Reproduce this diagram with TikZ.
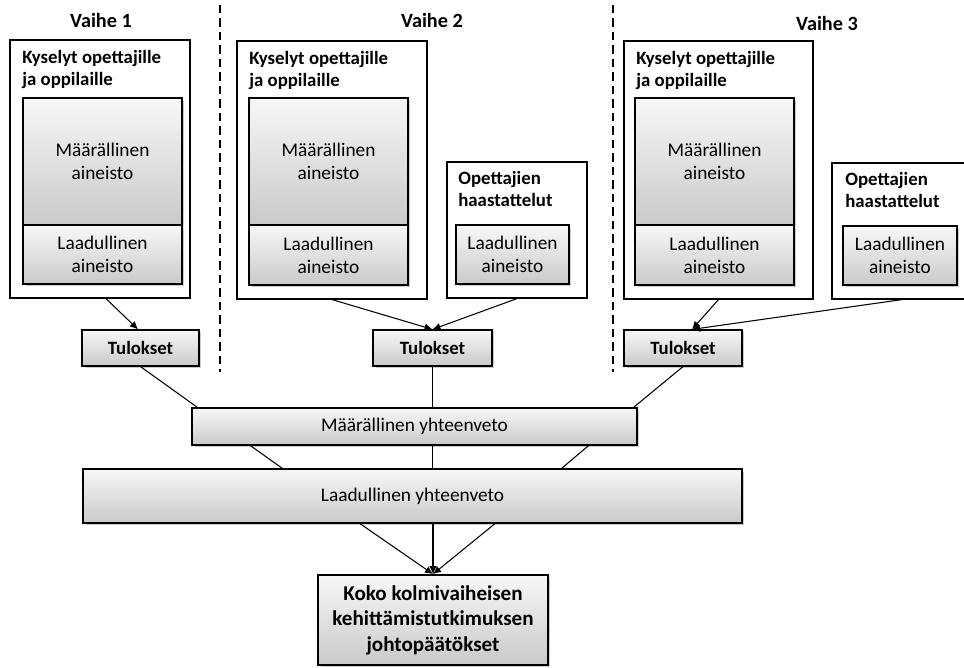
\documentclass[tikz,border=0pt]{standalone}
\usepackage{fontspec}
\setmainfont{Carlito}
\usetikzlibrary{arrows.meta,shadows}

\begin{document}
\begin{tikzpicture}[x=0.02cm, y=-0.02cm,
    outerbox/.style={draw, line width=0.7pt, fill=white, inner sep=0pt},
    shadebox/.style={draw, line width=0.7pt, top color=gray!6, bottom color=gray!42,
        drop shadow={shadow xshift=0.05cm, shadow yshift=-0.05cm, fill=black!45, opacity=0.45},
        inner sep=0pt, align=center, font=\fontsize{11}{13.2}\selectfont},
    boxtitle/.style={anchor=north west, align=left, inner sep=0pt,
        font=\fontsize{10.7}{12.6}\selectfont\bfseries},
    phase/.style={font=\fontsize{11.5}{13}\selectfont\bfseries},
    divider/.style={line width=1.1pt, dash pattern=on 0.17cm off 0.1cm},
    link/.style={line width=0.6pt},
    arr/.style={link, -{Latex[length=1.6mm, width=1.5mm]}}]
    \useasboundingbox (0,0) rectangle (964,668);

    % Phase labels and dividers
    \node[phase] (v1) at (101,20) {Vaihe 1};
    \node[phase] (v2) at (432,20) {Vaihe 2};
    \node[phase] (v3) at (827,23) {Vaihe 3};
    \coordinate (d1top) at (220,5);   \coordinate (d1bot) at (220,372);
    \coordinate (d2top) at (613,5);   \coordinate (d2bot) at (613,372);
    \draw[divider] (d1top) -- (d1bot);
    \draw[divider] (d2top) -- (d2bot);

    % Surveys, phase 1
    \node[outerbox, minimum width=3.6cm, minimum height=5.16cm] (s1) at (100,169) {};
    \node[boxtitle] at (22,50) {Kyselyt opettajille\\ja oppilaille};
    \node[shadebox, minimum width=3.18cm, minimum height=2.54cm] (q1) at (102.5,161.5) {Määrällinen\\aineisto};
    \node[shadebox, minimum width=3.18cm, minimum height=1.18cm] (l1) at (102.5,254.5) {Laadullinen\\aineisto};

    % Surveys and interviews, phase 2
    \node[outerbox, minimum width=3.8cm, minimum height=5.16cm] (s2) at (332,170) {};
    \node[boxtitle] at (249,51) {Kyselyt opettajille\\ja oppilaille};
    \node[shadebox, minimum width=3.18cm, minimum height=2.54cm] (q2) at (328.5,161.5) {Määrällinen\\aineisto};
    \node[shadebox, minimum width=3.18cm, minimum height=1.2cm] (l2) at (328.5,255) {Laadullinen\\aineisto};
    \node[outerbox, minimum width=2.8cm, minimum height=2.72cm] (i2) at (517,230) {};
    \node[boxtitle] at (458,171) {Opettajien\\haastattelut};
    \node[shadebox, minimum width=2.26cm, minimum height=1.18cm] (li2) at (512.5,254.5) {Laadullinen\\aineisto};

    % Surveys and interviews, phase 3
    \node[outerbox, minimum width=3.78cm, minimum height=5.16cm] (s3) at (718.5,170) {};
    \node[boxtitle] at (636,51) {Kyselyt opettajille\\ja oppilaille};
    \node[shadebox, minimum width=3.18cm, minimum height=2.54cm] (q3) at (714.5,161.5) {Määrällinen\\aineisto};
    \node[shadebox, minimum width=3.18cm, minimum height=1.2cm] (l3) at (714.5,255) {Laadullinen\\aineisto};
    \node[outerbox, minimum width=2.8cm, minimum height=2.72cm] (i3) at (902,231) {};
    \node[boxtitle] at (845,172) {Opettajien\\haastattelut};
    \node[shadebox, minimum width=2.28cm, minimum height=1.18cm] (li3) at (900,255.5) {Laadullinen\\aineisto};

    % Results
    \node[shadebox, font=\fontsize{10.7}{13}\selectfont\bfseries, minimum width=2.34cm, minimum height=0.72cm] (t1) at (140.5,348) {Tulokset};
    \node[shadebox, font=\fontsize{10.7}{13}\selectfont\bfseries, minimum width=2.38cm, minimum height=0.72cm] (t2) at (432.5,348) {Tulokset};
    \node[shadebox, font=\fontsize{10.7}{13}\selectfont\bfseries, minimum width=2.36cm, minimum height=0.72cm] (t3) at (683,348) {Tulokset};

    % Summaries
    \node[shadebox, minimum width=8.9cm, minimum height=0.74cm] (my) at (414.5,426.5) {Määrällinen yhteenveto};
    \node[shadebox, minimum width=13.18cm, minimum height=1.08cm] (ly) at (412.5,496) {Laadullinen yhteenveto};

    % Conclusions
    \node[shadebox, line width=1pt, font=\fontsize{12}{14.5}\selectfont\bfseries, minimum width=4.6cm, minimum height=1.8cm] (fin) at (433,620) {Koko kolmivaiheisen\\kehittämistutkimuksen\\johtopäätökset};

    % Arrows to results
    \draw[arr] ([xshift=0.12cm]s1.south) -- ([xshift=-0.05cm]t1.north);
    \draw[arr] (s2.south) -- (t2.north);
    \draw[arr] (i2.south) -- (t2.north);
    \draw[arr] (s3.south) -- ([xshift=0.18cm]t3.north);
    \draw[arr] (i3.south) -- ([xshift=0.18cm]t3.north);

    % Results to summaries
    \draw[link] (t1.south) -- ([xshift=0.12cm]my.north west);
    \draw[link] (t2.south) -- (t2.south |- my.north);
    \draw[link] (t3.south) -- ([xshift=-0.08cm]my.north east);
    \draw[link] ([xshift=1.18cm]my.south west) -- ([xshift=4cm]ly.north west);
    \draw[link] (t2.south |- my.south) -- (t2.south |- ly.north);
    \draw[link] ([xshift=-0.98cm]my.south east) -- ([xshift=-3.62cm]ly.north east);

    % Summaries to conclusions
    \draw[arr] ([xshift=-1.46cm]fin.north |- ly.south) -- (fin.north);
    \draw[arr] (fin.north |- ly.south) -- (fin.north);
    \draw[arr] ([xshift=1.24cm]fin.north |- ly.south) -- (fin.north);
\end{tikzpicture}
\end{document}
